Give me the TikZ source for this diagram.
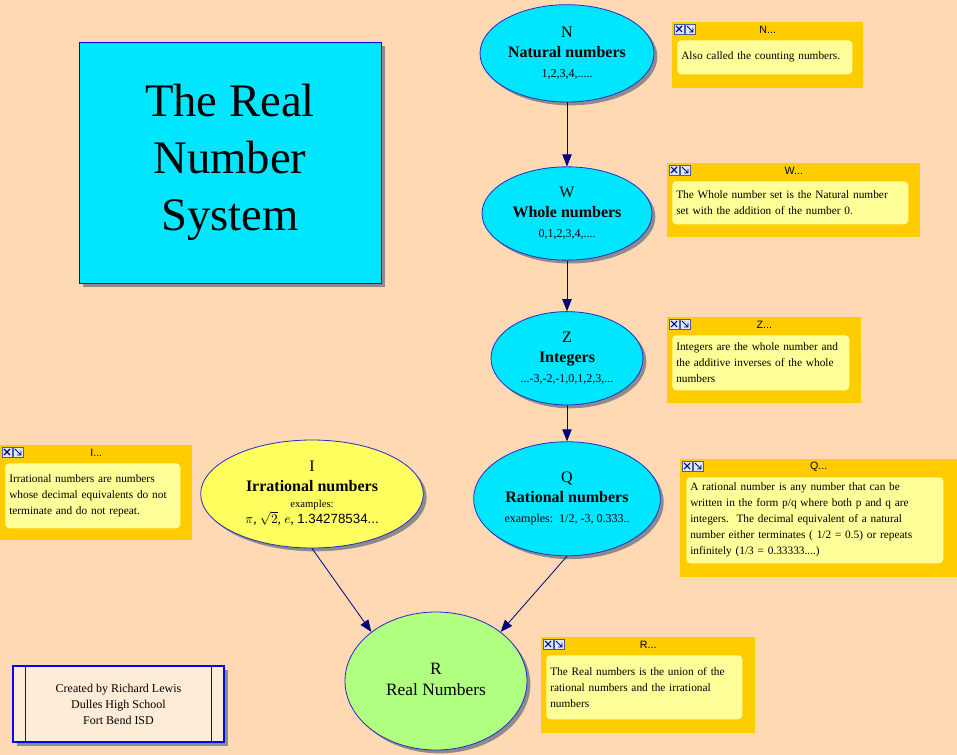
\documentclass[tikz,border=0pt]{standalone}
\usepackage{fontspec}
\setmainfont{Liberation Serif}
\setsansfont{Liberation Sans}
\usetikzlibrary{shapes.geometric, arrows.meta, positioning, shadows}

\definecolor{paper}{RGB}{255,217,179}
\definecolor{setcyan}{RGB}{0,230,255}
\definecolor{setyellow}{RGB}{255,255,96}
\definecolor{setgreen}{RGB}{176,255,128}
\definecolor{setline}{RGB}{40,40,200}
\definecolor{notegold}{RGB}{255,204,0}
\definecolor{notepale}{RGB}{255,255,153}
\definecolor{linknavy}{RGB}{0,0,128}
\definecolor{shadowgray}{RGB}{140,140,140}
\definecolor{creditfill}{RGB}{255,236,214}
\definecolor{btnfill}{RGB}{224,232,248}
\definecolor{btnline}{RGB}{64,96,160}

% letter, name and members of a number set
\newcommand{\setlabel}[3]{\begin{tabular}{@{}c@{}}#1\\ \textbf{#2}\\ {\fontsize{9}{11}\selectfont #3}\end{tabular}}

\tikzset{
  numset/.style={ellipse, draw=setline, line width=0.6pt, inner sep=0pt,
    font=\rmfamily\fontsize{12}{15}\selectfont,
    drop shadow={shadow xshift=2.5pt, shadow yshift=-2.5pt, fill=shadowgray, opacity=1}},
  noteframe/.style={rectangle, fill=notegold, anchor=north west, inner sep=0pt},
  notetext/.style={rectangle, rounded corners=3pt, fill=notepale, anchor=north west,
    align=left, inner xsep=3pt, inner ysep=0pt, font=\rmfamily\fontsize{8.5}{12}\selectfont},
  notetitle/.style={font=\sffamily\fontsize{8}{9}\selectfont, inner sep=0pt},
  link/.style={draw=linknavy, line width=0.6pt, -{Triangle[length=9pt,width=7pt]}},
  pics/winbtns/.style={code={
    \draw[btnline, fill=btnfill] (0,0) rectangle (10,10);
    \draw[linknavy, line width=0.8pt] (2,2) -- (8,8) (2,8) -- (8,2);
    \draw[btnline, fill=btnfill] (11,0) rectangle (21,10);
    \draw[linknavy, line width=0.6pt] (13,2) -- (19,8) (15,8) -- (19,8) -- (19,4);
  }}
}

\begin{document}
\begin{tikzpicture}[x=0.75pt, y=-0.75pt]
  \fill[paper] (0,0) rectangle (957,755);
  \useasboundingbox (0,0) rectangle (957,755);

  % title
  \node[rectangle, draw=blue, fill=setcyan, line width=0.6pt, align=center,
    minimum width=226.5pt, minimum height=180.75pt,
    font=\rmfamily\fontsize{35}{42.5}\selectfont,
    drop shadow={shadow xshift=3pt, shadow yshift=-3pt, fill=shadowgray, opacity=1}]
    (title) at (230,162.5) {The Real\\Number\\System};

  % number sets
  \node[numset, fill=setcyan, minimum width=127.5pt, minimum height=70pt] (w) at (567,213.5)
    {\setlabel{W}{Whole numbers}{0,1,2,3,4,....}};
  \node[numset, fill=setcyan, minimum width=130.5pt, minimum height=73pt, above=48pt of w] (n)
    {\setlabel{N}{Natural numbers}{1,2,3,4,.....}};
  \node[numset, fill=setcyan, minimum width=114pt, minimum height=70pt, below=38pt of w] (z)
    {\setlabel{Z}{Integers}{...-3,-2,-1,0,1,2,3,...}};
  \node[numset, fill=setcyan, minimum width=140pt, minimum height=85.5pt, below=27pt of z] (q)
    {\setlabel{Q}{Rational numbers}{examples:\ \ 1/2, -3, 0.333..}};
  \node[numset, fill=setyellow, minimum width=167pt, minimum height=81pt] (i) at (312,494)
    {\begin{tabular}{@{}c@{}}I\\ \textbf{Irrational numbers}\\[-3pt] {\fontsize{8}{9}\selectfont examples:}\\[-3pt]
     {\fontsize{10}{11}\selectfont $\pi$,\ $\sqrt{2}$,\ $e$,\ \textsf{1.34278534...}}\end{tabular}};
  \node[numset, fill=setgreen, minimum width=136.5pt, minimum height=103.5pt,
    font=\rmfamily\fontsize{13}{16}\selectfont] (r) at (436,681)
    {\begin{tabular}{@{}c@{}}R\\ Real Numbers\end{tabular}};

  \draw[link] (n) -- (w);
  \draw[link] (w) -- (z);
  \draw[link] (z) -- (q);
  \draw[link] (i.south) -- (r.north west);
  \draw[link] (q.south) -- (r.north east);

  % notes
  \node[noteframe, minimum width=143.25pt, minimum height=49.5pt] (nframe) at (672,22) {};
  \node[notetitle] at ([yshift=-6pt]nframe.north) {N...};
  \pic at ([shift={(2,2)}]nframe.north west) {winbtns};
  \node[notetext, text width=125.25pt, minimum height=25.5pt] (nnote)
    at ([shift={(5,18)}]nframe.north west) {Also called the counting numbers.};

  \node[noteframe, minimum width=189.75pt, minimum height=55.5pt] (wframe) at (667,163) {};
  \node[notetitle] at ([yshift=-6pt]wframe.north) {W...};
  \pic at ([shift={(2,2)}]wframe.north west) {winbtns};
  \node[notetext, text width=171pt, minimum height=32.25pt] (wnote)
    at ([shift={(5,18)}]wframe.north west)
    {The Whole number set is the Natural number\\ set with the addition of the number 0.};

  \node[noteframe, minimum width=145.5pt, minimum height=64.5pt] (zframe) at (667,317) {};
  \node[notetitle] at ([yshift=-6pt]zframe.north) {Z...};
  \pic at ([shift={(2,2)}]zframe.north west) {winbtns};
  \node[notetext, text width=126.75pt, minimum height=41.25pt] (znote)
    at ([shift={(5,18)}]zframe.north west)
    {Integers are the whole number and\\ the additive inverses of the whole\\ numbers};

  \node[noteframe, minimum width=144pt, minimum height=71.25pt] (iframe) at (0,445) {};
  \node[notetitle] at ([yshift=-6pt]iframe.north) {I...};
  \pic at ([shift={(2,2)}]iframe.north west) {winbtns};
  \node[notetext, text width=125.25pt, minimum height=48.75pt] (inote)
    at ([shift={(5,18)}]iframe.north west)
    {Irrational numbers are numbers\\ whose decimal equivalents do not\\ terminate and do not repeat.};

  \node[noteframe, minimum width=207.75pt, minimum height=88.5pt] (qframe) at (680,459) {};
  \node[notetitle] at ([yshift=-6pt]qframe.north) {Q...};
  \pic at ([shift={(2,2)}]qframe.north west) {winbtns};
  \node[notetext, text width=186.75pt, minimum height=64.5pt] (qnote)
    at ([shift={(6,18)}]qframe.north west)
    {A rational number is any number that can be\\ written in the form p/q where both p and q are\\
     integers.\ \ The decimal equivalent of a natural\\ number either terminates ( 1/2 = 0.5) or repeats\\
     infinitely (1/3 = 0.33333....)};

  \node[noteframe, minimum width=160.5pt, minimum height=72pt] (rframe) at (541,637) {};
  \node[notetitle] at ([yshift=-6pt]rframe.north) {R...};
  \pic at ([shift={(2,2)}]rframe.north west) {winbtns};
  \node[notetext, text width=141pt, minimum height=48pt] (rnote)
    at ([shift={(5,18)}]rframe.north west)
    {The Real numbers is the union of the\\ rational numbers and the irrational\\ numbers};

  % credits
  \node[rectangle, draw=blue, fill=creditfill, line width=0.8pt, align=center,
    minimum width=158.25pt, minimum height=57pt, font=\rmfamily\fontsize{9}{12}\selectfont,
    drop shadow={shadow xshift=3pt, shadow yshift=-3pt, fill=shadowgray, opacity=1}]
    (credit) at (118.5,704) {Created by Richard Lewis\\Dulles High School\\Fort Bend ISD};
  \draw[blue, line width=0.8pt] ([xshift=9.75pt]credit.north west) -- ([xshift=9.75pt]credit.south west);
  \draw[blue, line width=0.8pt] ([xshift=-9.75pt]credit.north east) -- ([xshift=-9.75pt]credit.south east);
\end{tikzpicture}
\end{document}
